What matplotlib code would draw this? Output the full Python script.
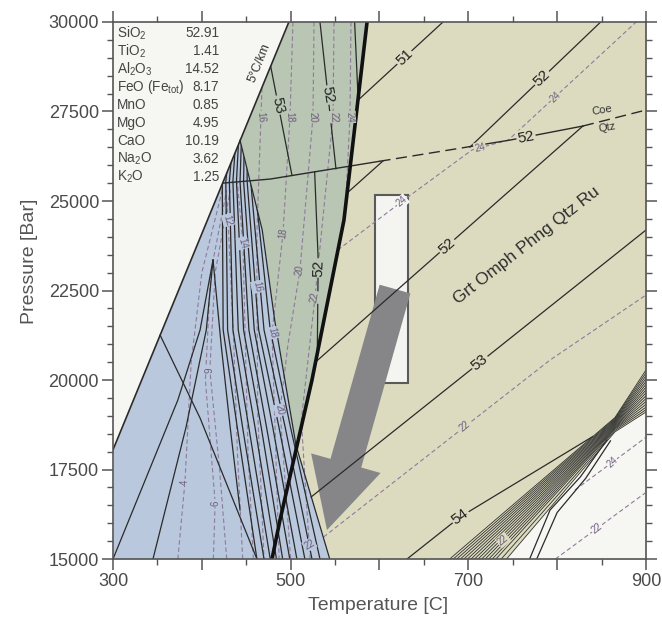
import numpy as np
import matplotlib
matplotlib.use("Agg")
import matplotlib.pyplot as plt
from matplotlib.patches import Polygon, Rectangle, FancyArrowPatch
from matplotlib.ticker import MultipleLocator

plt.rcParams['font.family'] = ['Liberation Sans', 'DejaVu Sans']
plt.rcParams['mathtext.fontset'] = 'custom'
plt.rcParams['mathtext.rm'] = 'Liberation Sans'
plt.rcParams['mathtext.it'] = 'Liberation Sans:italic'
plt.rcParams['mathtext.bf'] = 'Liberation Sans:bold'
plt.rcParams['mathtext.default'] = 'rm'

# bulk composition (wt%)
oxides = ['SiO$_2$', 'TiO$_2$', 'Al$_2$O$_3$', 'FeO (Fe$_{tot}$)', 'MnO', 'MgO',
          'CaO', 'Na$_2$O', 'K$_2$O']
wt_pct = ['52.91', '1.41', '14.52', '8.17', '0.85', '4.95', '10.19', '3.62', '1.25']

x_ticks = [300, 400, 500, 600, 700, 800, 900]
x_tick_labels = ['300', '', '500', '', '700', '', '900']
y_ticks = [15000, 17500, 20000, 22500, 25000, 27500, 30000]

# field boundaries (T in C, P in bar)
geo_T = [300, 498]                      # 5 C/km geotherm
geo_P = [18050, 30000]
blue_T = [544, 506, 482, 468, 454, 443]  # right edge of blue field
blue_P = [15000, 18180, 21675, 24190, 25585, 26700]
lws_T = [479, 488, 524, 560, 586]        # heavy reaction line
lws_P = [15000, 16089, 20000, 24468, 30000]
coe_T = [424, 477, 600, 702, 747, 829, 900]   # Coe = Qtz
coe_P = [25500, 25613, 26109, 26520, 26702, 27094, 27541]

# solid isopleths, green field
g53_T = [477.5, 501.5]
g53_P = [28764, 25713]
g52a_T = [533, 551]
g52a_P = [30000, 25900]
g52b_T = [527, 531, 530]
g52b_P = [25817, 23349, 20840]
g51_T = [572, 576]
g51_P = [30000, 27820]

# solid isopleths, yellow field
y51_T = [576, 671.5]
y51_P = [27820, 30000]
y52s_T = [563.5, 604]
y52s_P = [25222, 26120]
y52a_T = [702, 849]
y52a_P = [26510, 30000]
y52b_T = [528, 829]
y52b_P = [20502, 27094]
y53_T = [523, 900]
y53_P = [16732, 24189]
y54_T = [631, 691, 840]
y54_P = [15000, 16180, 18420]

# dashed isopleths
p24_T = [553, 632, 704, 745, 889]
p24_P = [23630, 25111, 26424, 26702, 30000]
p22_T = [537, 792, 900]
p22_P = [15614, 20558, 22374]
d16_T = [467.7, 462.1, 462, 463, 470]
d16_P = [28155, 24189, 22597, 19000, 15000]
d18_T = [502.6, 499.2, 491.4, 479, 482, 487]
d18_P = [30000, 27345, 24105, 21312, 19000, 15000]
d20_T = [526.3, 525.1, 510.5, 497, 488, 500]
d20_P = [30000, 27345, 23072, 21000, 19162, 15000]
d22_T = [548.8, 547.7, 527.4, 512, 518, 522]
d22_P = [30000, 27345, 22318, 18882, 16500, 15000]
d24_T = [567.9, 566.8, 562]
d24_P = [30000, 27345, 25000]
d4_T = [373, 381, 388, 400, 423]
d4_P = [15000, 17150, 20500, 23000, 25300]
d6_T = [413, 415, 404, 410, 428]
d6_P = [15000, 16564, 20000, 23000, 25300]
d9_T = [428, 420, 409, 415, 432]
d9_P = [15000, 17500, 20279, 23000, 25300]
d12_T = [446, 440, 436, 429.5, 427]
d12_P = [15000, 18000, 21000, 24468, 25300]
d14_T = [458, 452, 449, 446.3, 440]
d14_P = [15000, 18000, 21000, 23826, 25500]
w22_T = [798, 899]
w22_P = [15000, 16843]
w24_T = [820, 900]
w24_P = [16927, 18400]

# solid lines in the blue field
L1_T = [300, 373, 398, 412.6]
L1_P = [15000, 19441, 21396, 23351]
L2_T = [345, 382, 405, 412.6]
L2_P = [15000, 18659, 21396, 23351]
L3_T = [412.6, 422, 432, 443]
L3_P = [23351, 20921, 18659, 16369]
L4_T = [353, 398, 462]
L4_P = [21256, 18938, 15000]
hatch_P = [15000, 18660, 21400, 25550, 27000]
hatch_T = [[462, 440, 424, 423, 430],
           [470, 446, 429, 427, 433],
           [477, 453, 435, 431, 436],
           [484, 460, 441, 435, 439],
           [491, 467, 447, 439, 442],
           [499, 473, 453, 443, 445],
           [507, 480, 459, 447, 448],
           [516, 487, 464, 451, 451],
           [524, 494, 470, 455, 454],
           [533, 500, 477, 459, 457]]

# high-T fan (bottom T, P at 865 C, P at 900 C)
fan_T0 = [679, 683, 687, 691, 695, 699, 703, 707, 711, 715, 719, 723, 727, 731, 737, 743]
fan_Pw = [18950, 18925, 18900, 18875, 18850, 18825, 18800, 18775, 18750, 18725,
          18700, 18675, 18650, 18625, 18590, 18550]
fan_Pr = [20280, 20200, 20120, 20040, 19960, 19880, 19800, 19720, 19640, 19560,
          19480, 19400, 19320, 19240, 19170, 19106]
fan_Tw = 865
c1_T = [769, 792, 826, 856]
c1_P = [15000, 16369, 17290, 18324]
c2_T = [777, 800, 832, 860]
c2_P = [15000, 16300, 17250, 18300]

# sample box and P-T path
box_T = [595, 632]
box_P = [19916, 25167]
arrow_T = [617.5, 540.9]
arrow_P = [22541, 15810]

c_white = '#f6f6f2'
c_blue = '#b9c8dd'
c_green = '#b8c6b3'
c_yellow = '#dcdbc0'
c_line = '#2a2a2a'
c_purple = '#8e7b9a'

fig = plt.figure(figsize=(6.62, 6.23), dpi=100)
ax = fig.add_axes([0.1707, 0.1027, 0.8051, 0.8620])
ax.set_xlim(300, 900)
ax.set_ylim(15000, 30000)
ax.set_facecolor(c_white)

P = np.linspace(15000, 30000, 3001)
geo = np.interp(P, geo_P, geo_T)
blue = np.interp(P, blue_P, blue_T)
lws = np.interp(P, lws_P, lws_T)
in_blue = P <= blue_P[-1]
blue_edge = np.where(in_blue, blue, 0)
ax.fill_betweenx(P, geo, blue, where=in_blue & (blue > geo), interpolate=True,
                 color=c_blue, lw=0, zorder=0.5)
left_g = np.maximum(geo, blue_edge)
ax.fill_betweenx(P, left_g, lws, where=lws > left_g, interpolate=True,
                 color=c_green, lw=0, zorder=0.5)
left_y = np.maximum(lws, blue_edge)
ax.fill_betweenx(P, left_y, 900, color=c_yellow, lw=0, zorder=0.5)

# white field below the fan
ax.add_patch(Polygon([(fan_T0[-1], 15000), (fan_Tw, fan_Pw[-1]), (900, fan_Pr[-1]), (900, 15000)],
                     closed=True, fc=c_white, ec='none', zorder=0.6))

# blue field as clip path for the hatching
clip = Polygon([(300, 15000)] + list(zip(blue_T, blue_P)) + [(geo_T[0], geo_P[0])],
               closed=True, fc='none', ec='none', transform=ax.transData)
ax.add_patch(clip)

solid = dict(color=c_line, lw=0.9, zorder=2)
dash = dict(color=c_purple, lw=0.8, dashes=(4, 2.5), zorder=1.9)

for row in hatch_T:
    ln, = ax.plot(row, hatch_P, **solid)
    ln.set_clip_path(clip)

for T, Pp in [(L1_T, L1_P), (L2_T, L2_P), (L3_T, L3_P), (L4_T, L4_P),
              (g53_T, g53_P), (g52a_T, g52a_P), (g52b_T, g52b_P), (g51_T, g51_P),
              (y51_T, y51_P), (y52s_T, y52s_P), (y52a_T, y52a_P), (y52b_T, y52b_P),
              (y53_T, y53_P), (y54_T, y54_P), (c1_T, c1_P), (c2_T, c2_P),
              (blue_T, blue_P)]:
    ax.plot(T, Pp, **solid)

for T, Pp in [(p24_T, p24_P), (p22_T, p22_P), (d16_T, d16_P), (d18_T, d18_P),
              (d20_T, d20_P), (d22_T, d22_P), (d24_T, d24_P), (d4_T, d4_P),
              (d6_T, d6_P), (d9_T, d9_P), (d12_T, d12_P), (d14_T, d14_P),
              (w22_T, w22_P), (w24_T, w24_P)]:
    ax.plot(T, Pp, **dash)

for t0, pw, pr in zip(fan_T0, fan_Pw, fan_Pr):
    ax.plot([t0, fan_Tw, 900], [15000, pw, pr], color='#303030', lw=0.6, zorder=2)

ax.plot(geo_T, geo_P, color=c_line, lw=1.2, zorder=2.2)
ax.plot(lws_T, lws_P, color='#111111', lw=2.6, zorder=2.5)
ax.plot(coe_T[:3], coe_P[:3], color=c_line, lw=1.0, zorder=2.2)
ax.plot(coe_T[2:4], coe_P[2:4], color=c_line, lw=1.0, dashes=(8, 4), zorder=2.2)
ax.plot(coe_T[3:6], coe_P[3:6], color=c_line, lw=1.0, zorder=2.2)
ax.plot(coe_T[5:], coe_P[5:], color=c_line, lw=1.0, dashes=(8, 4), zorder=2.2)

# sample box and arrow
ax.add_patch(Rectangle((box_T[0], box_P[0]), box_T[1] - box_T[0], box_P[1] - box_P[0],
                       fc='#f4f4f1', ec='none', zorder=1.2))
ax.add_patch(Rectangle((box_T[0], box_P[0]), box_T[1] - box_T[0], box_P[1] - box_P[0],
                       fc='none', ec='#5a5a5a', lw=1.5, zorder=1.7))
ax.add_patch(FancyArrowPatch((arrow_T[0], arrow_P[0]), (arrow_T[1], arrow_P[1]),
                             arrowstyle='simple,head_length=50,head_width=52,tail_width=23',
                             mutation_scale=1, shrinkA=0, shrinkB=0,
                             fc='#868689', ec='none', zorder=1.8))


def tag(s, T, Pv, rot, bg, size=11, color='#222222'):
    ax.text(T, Pv, s, rotation=rot, ha='center', va='center', fontsize=size, color=color,
            zorder=4, bbox=dict(boxstyle='square,pad=0.08', fc=bg, ec='none'))


tag('53', 486, 27680, -78, c_green)
tag('52', 542, 27961, -80, c_green)
tag('52', 531, 23128, 88, c_green)
tag('51', 628, 29010, 44, c_yellow)
tag('52', 783, 28431, 44, c_yellow)
tag('52', 765, 26780, 11, c_yellow)
tag('52', 676, 23743, 42, c_yellow)
tag('53', 713, 20492, 39, c_yellow)
tag('54', 691, 16180, 36, c_yellow)

pk = dict(size=7, color='#6f5c7e')
tag('24', 625, 24985, 40, '#f4f4f1', **pk)
tag('24', 713, 26485, 12, c_yellow, **pk)
tag('24', 798, 27907, 43, c_yellow, **pk)
tag('22', 696, 18701, 40, c_yellow, **pk)
tag('22', 739, 15530, 40, c_yellow, **pk)
tag('24', 862, 17695, 42, c_white, **pk)
tag('22', 845, 15854, 38, c_white, **pk)
tag('16', 466, 27345, -85, c_green, **pk)
tag('18', 499, 27345, -87, c_green, **pk)
tag('20', 525, 27345, -88, c_green, **pk)
tag('22', 548, 27345, -88, c_green, **pk)
tag('24', 567, 27345, -88, c_green, **pk)
tag('18', 491, 24105, 82, c_green, **pk)
tag('20', 510, 23072, 80, c_green, **pk)
tag('22', 527, 22318, 80, c_green, **pk)
tag('4', 381, 17150, 90, c_blue, **pk)
tag('6', 415, 16564, 90, c_blue, **pk)
tag('9', 409, 20279, 90, c_blue, **pk)
tag('12', 429.5, 24468, -75, c_blue, **pk)
tag('14', 446, 23826, -75, c_blue, **pk)
tag('16', 462, 22597, -78, c_blue, **pk)
tag('18', 479, 21312, -78, c_blue, **pk)
tag('20', 488, 19162, -78, c_blue, **pk)
tag('22', 521, 15400, 30, c_blue, **pk)

ax.text(465, 28853, '5°C/km', rotation=68, ha='center', va='center', fontsize=9,
        color='#333333', zorder=4)
ax.text(766, 23770, 'Grt Omph Phng Qtz Ru', rotation=38, ha='center', va='center',
        fontsize=12.5, color='#2e2e2e', zorder=4)
ax.text(850, 27541, 'Coe', rotation=10, ha='center', va='center', fontsize=8,
        color='#333333', zorder=4)
ax.text(856, 27038, 'Qtz', rotation=10, ha='center', va='center', fontsize=8,
        color='#333333', zorder=4)

for i, (ox, w) in enumerate(zip(oxides, wt_pct)):
    y = 0.9795 - i * 0.0335
    ax.text(0.0075, y, ox, transform=ax.transAxes, ha='left', va='center',
            fontsize=9.8, color='#444444', zorder=4)
    ax.text(0.199, y, w, transform=ax.transAxes, ha='right', va='center',
            fontsize=9.8, color='#444444', zorder=4)

ax.set_xticks(x_ticks)
ax.set_xticklabels(x_tick_labels)
ax.set_yticks(y_ticks)
ax.set_yticklabels([str(v) for v in y_ticks])
ax.xaxis.set_minor_locator(MultipleLocator(50))
ax.yaxis.set_minor_locator(MultipleLocator(500))
ax.tick_params(which='both', direction='out', top=True, right=True, color='#555555',
               labelcolor='#4a4a4a', labelsize=13)
ax.tick_params(which='major', length=8, width=1.1, pad=2)
ax.tick_params(which='minor', length=4, width=1.0)
for s in ax.spines.values():
    s.set_color('#555555')
    s.set_linewidth(1.2)
    s.set_zorder(5)

fig.text(378 / 662, 1 - 605 / 623, 'Temperature [C]', ha='center', va='center',
         fontsize=14, color='#555555')
fig.text(30 / 662, 1 - 261 / 623, 'Pressure [Bar]', ha='center', va='center',
         rotation=90, fontsize=14, color='#555555')

fig.savefig('out.png', dpi=100)
